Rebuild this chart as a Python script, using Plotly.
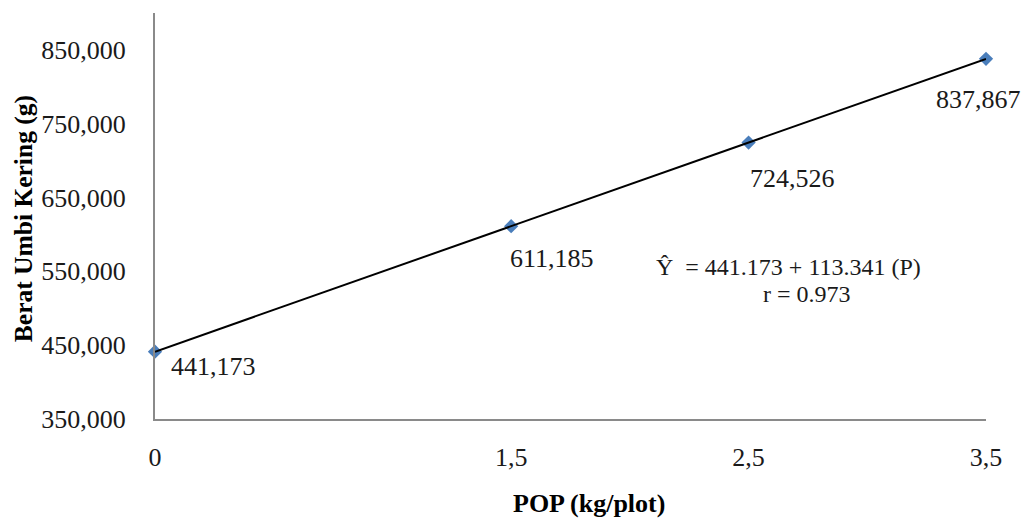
import numpy as np
import plotly.graph_objects as go

# Data
pop_kg = [0, 1.5, 2.5, 3.5]
berat = [441173, 611185, 724526, 837867]
labels = ["441,173", "611,185", "724,526", "837,867"]
y_ticks = [350000, 450000, 550000, 650000, 750000, 850000]
y_tick_text = ["350,000", "450,000", "550,000", "650,000", "750,000", "850,000"]
x_ticks = [0, 1.5, 2.5, 3.5]
x_tick_text = ["0", "1,5", "2,5", "3,5"]
eq_text = "Ŷ  = 441.173 + 113.341 (P)"
r_text = "r = 0.973"

# label offsets (px) relative to each point: left edge, center
lbl_dx = [14, -3, -1, -52]
lbl_dy = [15, 32, 36, 41]

FONT = "Liberation Serif, Times New Roman, serif"

slope, intercept = np.polyfit(pop_kg, berat, 1)
xl = np.array([min(pop_kg), max(pop_kg)])
yl = intercept + slope * xl

fig = go.Figure()
fig.add_trace(go.Scatter(x=pop_kg, y=berat, mode="markers",
                         marker=dict(symbol="diamond", size=11, color="#4A7EBB"),
                         showlegend=False, cliponaxis=False))
fig.add_trace(go.Scatter(x=xl, y=yl, mode="lines",
                         line=dict(color="black", width=2),
                         showlegend=False, cliponaxis=False))

for x, y, t, dx, dy in zip(pop_kg, berat, labels, lbl_dx, lbl_dy):
    fig.add_annotation(x=x, y=y, text=t, showarrow=False, xanchor="left", yanchor="middle",
                       xshift=dx, yshift=-dy, font=dict(family=FONT, size=26, color="#1a1a1a"))

fig.add_annotation(xref="paper", yref="paper", x=(655 - 155) / 832, y=(419 - 267) / 406,
                   text=eq_text, showarrow=False, xanchor="left", yanchor="middle",
                   font=dict(family=FONT, size=24, color="#1a1a1a"))
fig.add_annotation(xref="paper", yref="paper", x=(808 - 155) / 832, y=(419 - 294) / 406,
                   text=r_text, showarrow=False, xanchor="center", yanchor="middle",
                   font=dict(family=FONT, size=24, color="#1a1a1a"))

fig.add_annotation(xref="paper", yref="paper", x=(590 - 155) / 832, y=(419 - 503) / 406,
                   text="<b>POP (kg/plot)</b>", showarrow=False, xanchor="center", yanchor="middle",
                   font=dict(family=FONT, size=26, color="black"))
fig.add_annotation(xref="paper", yref="paper", x=(24 - 155) / 832, y=(419 - 219) / 406,
                   text="<b>Berat Umbi Kering (g)</b>", showarrow=False, textangle=-90,
                   xanchor="center", yanchor="middle",
                   font=dict(family=FONT, size=25.5, color="black"))

fig.update_xaxes(range=[0, 3.5], tickvals=x_ticks, ticktext=x_tick_text,
                 showgrid=False, zeroline=False, showline=True, linecolor="#8a8a8a", linewidth=2,
                 ticks="", ticklabelstandoff=14,
                 tickfont=dict(family=FONT, size=26, color="#1a1a1a"))
fig.update_yaxes(range=[350000, 900000], tickvals=y_ticks, ticktext=y_tick_text,
                 showgrid=False, zeroline=False, showline=True, linecolor="#8a8a8a", linewidth=2,
                 ticks="", ticklabelstandoff=22,
                 tickfont=dict(family=FONT, size=26, color="#1a1a1a"))

fig.update_layout(width=1030, height=518, margin=dict(l=155, r=44, t=13, b=99),
                  plot_bgcolor="white", paper_bgcolor="white")

fig.write_html("out.html")
